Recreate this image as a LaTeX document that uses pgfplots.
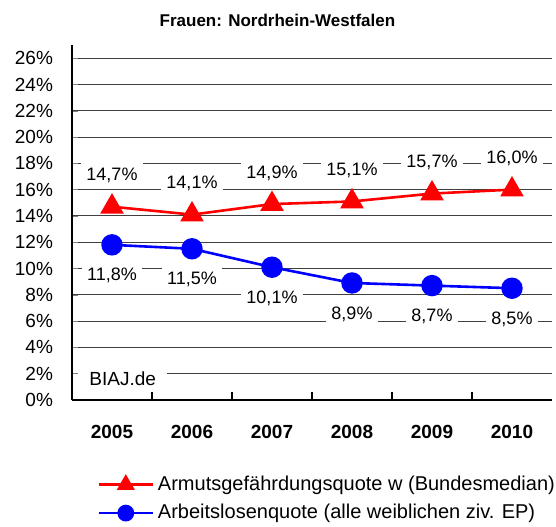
\documentclass[border=0pt]{standalone}
\usepackage{fontspec}
\setmainfont{Liberation Sans}
\usepackage{pgfplots}
\pgfplotsset{compat=1.18}

\begin{document}
\begin{tikzpicture}
\begin{axis}[
  name=ax,
  scale only axis,
  width=240pt, height=177.5pt,
  xmin=-0.5, xmax=5.5,
  ymin=0, ymax=27,
  axis x line*=bottom, axis y line*=left,
  axis line style={black, line width=0.6pt},
  xtick={0,...,5},
  xticklabels={2005,2006,2007,2008,2009,2010},
  major x tick style={draw=none},
  minor xtick={0.5,1.5,2.5,3.5,4.5},
  minor tick length=4pt,
  minor x tick style={black, line width=0.6pt},
  ytick={0,2,...,26},
  yticklabel={\pgfmathprintnumber{\tick}\%},
  ymajorgrids,
  grid style={black!75, line width=0.5pt},
  tick align=inside,
  major tick length=3pt,
  /pgf/number format/assume math mode=true,
  xticklabel style={font=\fontsize{9.5}{11}\selectfont\bfseries, yshift=-9pt},
  yticklabel style={font=\fontsize{9.5}{11}\selectfont, xshift=-6pt},
  title={Frauen: Nordrhein-Westfalen},
  title style={font=\fontsize{8.5}{10}\selectfont\bfseries, at={(0.428,1.035)}, anchor=center},
  legend style={at={(0.04,-0.19)}, anchor=north west, draw=none, fill=none,
    font=\fontsize{10}{12}\selectfont, row sep=1.5pt, overlay},
  legend cell align=left,
  legend image code/.code={\draw[mark repeat=2,mark phase=2,#1] plot coordinates {(0pt,0pt) (13.5pt,0pt) (27pt,0pt)};},
  point meta=y,
]

\addplot[red, line width=1.3pt, mark=triangle*, mark size=5.5pt, forget plot,
  nodes near coords={\pgfmathprintnumber[fixed,fixed zerofill,precision=1,use comma]{\pgfplotspointmeta}\%},
  every node near coord/.append style={text=black, fill=white, anchor=center, yshift=15.5pt,
    inner xsep=2.5pt, inner ysep=3pt, font=\fontsize{9}{11}\selectfont}]
  coordinates {(0,14.7) (1,14.1) (2,14.9) (3,15.1) (4,15.7) (5,16.0)};

\addplot[blue, line width=1.3pt, mark=*, mark size=4.7pt, forget plot,
  nodes near coords={\pgfmathprintnumber[fixed,fixed zerofill,precision=1,use comma]{\pgfplotspointmeta}\%},
  every node near coord/.append style={text=black, fill=white, anchor=center, yshift=-15.5pt,
    inner xsep=2.5pt, inner ysep=3pt, font=\fontsize{9}{11}\selectfont}]
  coordinates {(0,11.8) (1,11.5) (2,10.1) (3,8.9) (4,8.7) (5,8.5)};

\node[fill=white, anchor=west, inner xsep=5.5pt, inner ysep=2pt, font=\fontsize{9.5}{11}\selectfont]
  at (axis cs:-0.425,1.6) {BIAJ.de};

\addlegendimage{red, line width=1.2pt, mark=triangle*, mark size=4pt}
\addlegendentry{Armutsgefährdungsquote w (Bundesmedian)}
\addlegendimage{blue, line width=1.2pt, mark=*, mark size=3.6pt}
\addlegendentry{Arbeitslosenquote (alle weiblichen ziv. EP)}
\end{axis}
\path (ax.south west) ++(-36pt,-63.5pt);
\path (ax.north east) ++(2pt,22.5pt);
\end{tikzpicture}
\end{document}
